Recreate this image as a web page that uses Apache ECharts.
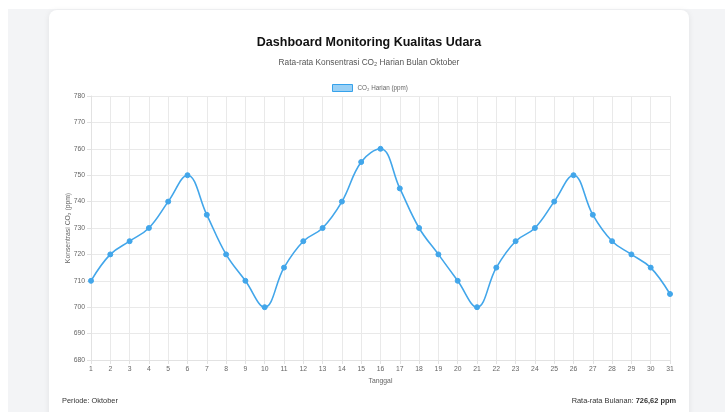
<!DOCTYPE html>
<html>
<head>
<meta charset="utf-8">
<script src="https://cdn.jsdelivr.net/npm/echarts@6/dist/echarts.min.js"></script>
<style>
  html, body { margin: 0; padding: 0; width: 725px; height: 412px; overflow: hidden; background: #ffffff; font-family: "Liberation Sans", Arial, Helvetica, sans-serif; }
  #page { position: absolute; left: 8px; top: 9px; width: 717px; height: 403px; background: #f3f4f6; }
  #card { position: absolute; left: 49px; top: 10px; width: 640px; height: 420px; background: #ffffff; border-radius: 8px; box-shadow: 0 1px 6px rgba(0,0,0,0.08); }
  #chart { position: absolute; left: 0; top: 0; width: 725px; height: 412px; }
  .foot { position: absolute; top: 396px; font-size: 7.4px; color: #333; }
  #fl { left: 62px; }
  #fr { right: 49px; text-align: right; }
</style>
</head>
<body>
<div id="page"></div>
<div id="card"></div>
<div id="chart"></div>
<div class="foot" id="fl">Periode: Oktober</div>
<div class="foot" id="fr">Rata-rata Bulanan: <b>726,62 ppm</b></div>
<script>
const days = ['1','2','3','4','5','6','7','8','9','10','11','12','13','14','15','16','17','18','19','20','21','22','23','24','25','26','27','28','29','30','31'];
const co2 = [710,720,725,730,740,750,735,720,710,700,715,725,730,740,755,760,745,730,720,710,700,715,725,730,740,750,735,725,720,715,705];
const seriesName = 'CO₂ Harian (ppm)';
const titleText = 'Dashboard Monitoring Kualitas Udara';
const subtitleText = 'Rata-rata Konsentrasi CO₂ Harian Bulan Oktober';
const yName = 'Konsentrasi CO₂ (ppm)';
const xName = 'Tanggal';

const chart = echarts.init(document.getElementById('chart'), null, { renderer: 'canvas' });
const font = '"Liberation Sans", Arial, Helvetica, sans-serif';
chart.setOption({
  backgroundColor: 'transparent',
  textStyle: { fontFamily: font },
  graphic: [
    { type: 'text', x: 369, y: 43, style: { text: titleText, align: 'center', verticalAlign: 'middle',
        font: 'bold 12.5px ' + font, fill: '#111' } },
    { type: 'text', x: 369, y: 63, style: { text: subtitleText, align: 'center', verticalAlign: 'middle',
        font: '8.3px ' + font, fill: '#555' } }
  ],
  legend: {
    top: 79, left: 327,
    icon: 'rect', itemWidth: 20, itemHeight: 7, itemGap: 4,
    textStyle: { fontSize: 6.3, color: '#666', fontFamily: font },
    data: [{ name: seriesName, itemStyle: { color: 'rgba(54,162,235,0.5)', borderColor: '#36A2EB', borderWidth: 1 } }]
  },
  grid: { left: 91, right: 55, top: 96, bottom: 52, containLabel: false },
  xAxis: {
    type: 'category', data: days, boundaryGap: false,
    name: xName, nameLocation: 'middle', nameGap: 18,
    nameTextStyle: { fontSize: 6.8, color: '#666' },
    axisLine: { show: true, lineStyle: { color: '#e2e2e2' } },
    axisTick: { show: true, length: 4, lineStyle: { color: '#e2e2e2' } },
    axisLabel: { fontSize: 6.8, color: '#666', margin: 6 },
    splitLine: { show: true, lineStyle: { color: '#e9e9e9' } }
  },
  yAxis: {
    type: 'value', min: 680, max: 780, interval: 10,
    name: yName, nameLocation: 'middle', nameGap: 19, nameRotate: 90, nameMoveOverlap: false,
    nameTextStyle: { fontSize: 6.8, color: '#666' },
    axisLine: { show: true, lineStyle: { color: '#e2e2e2' } },
    axisTick: { show: true, length: 4, lineStyle: { color: '#e2e2e2' } },
    axisLabel: { fontSize: 6.8, color: '#666', margin: 6 },
    splitLine: { show: true, lineStyle: { color: '#e9e9e9' } }
  },
  series: [{
    name: seriesName, type: 'line', data: co2, smooth: 0.4,
    symbol: 'circle', symbolSize: 5,
    lineStyle: { color: '#42a6ea', width: 1.6 },
    itemStyle: { color: '#42a6ea', borderColor: '#42a6ea' },
    animation: false
  }]
});
</script>
</body>
</html>
